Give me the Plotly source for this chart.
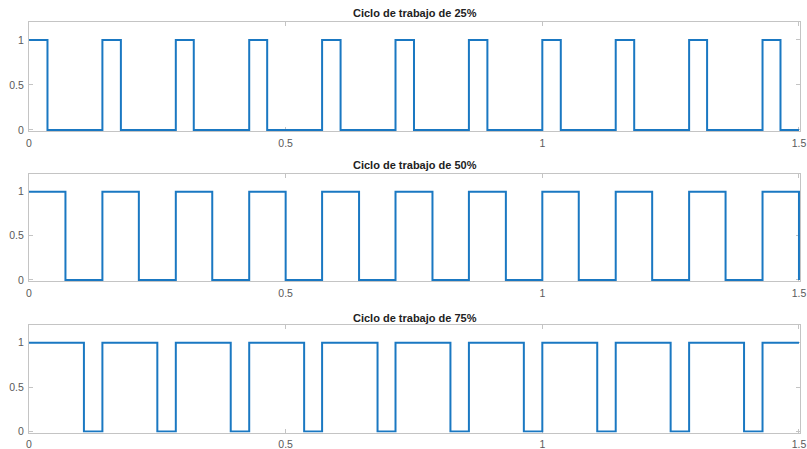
import plotly.graph_objects as go

# Edge times (seconds)
t_end = 1.5
rises = [0.0, 0.143, 0.286, 0.429, 0.571, 0.714, 0.857, 1.0, 1.143, 1.286, 1.429]
falls_25 = [0.036, 0.179, 0.321, 0.464, 0.607, 0.750, 0.893, 1.036, 1.179, 1.321, 1.464]
falls_50 = [0.071, 0.214, 0.357, 0.500, 0.643, 0.786, 0.929, 1.071, 1.214, 1.357, 1.500]
falls_75 = [0.107, 0.250, 0.393, 0.536, 0.679, 0.821, 0.964, 1.107, 1.250, 1.393]

titles = ["Ciclo de trabajo de 25%", "Ciclo de trabajo de 50%", "Ciclo de trabajo de 75%"]
x_ticks = [0, 0.5, 1, 1.5]
x_tick_labels = ["0", "0.5", "1", "1.5"]
y_ticks = [0, 0.5, 1]
y_tick_labels = ["0", "0.5", "1"]


def edges_to_steps(rise, fall, end):
    xs, ys = [], []
    for i, r in enumerate(rise):
        xs.append(r); ys.append(1)
        if i < len(fall):
            xs.append(fall[i]); ys.append(0)
    if xs[-1] < end:
        xs.append(end); ys.append(ys[-1])
    return xs, ys


series = [falls_25, falls_50, falls_75]

W, H = 807, 449
# pixel boxes (top, bottom) of each axes
boxes = [(22, 131), (174, 281), (325, 432.5)]
title_y = [13, 165, 318]

fig = go.Figure()
font_family = "Liberation Sans, Arial, Helvetica, sans-serif"
for i, falls in enumerate(series):
    xs, ys = edges_to_steps(rises, falls, t_end)
    xa = "x" if i == 0 else f"x{i+1}"
    ya = "y" if i == 0 else f"y{i+1}"
    fig.add_trace(go.Scatter(x=xs, y=ys, mode="lines", line=dict(color="#1a78c2", width=2, shape="hv"),
                             xaxis=xa, yaxis=ya, showlegend=False, cliponaxis=False))
    top, bot = boxes[i]
    dom = [1 - bot / H, 1 - top / H]
    axis_common = dict(showline=True, linecolor="#c4c4c4", linewidth=1, mirror="ticks", ticks="inside",
                       ticklen=4, tickcolor="#c4c4c4", showgrid=False, zeroline=False,
                       tickfont=dict(family=font_family, size=10.5, color="#5a5a5a"), layer="below traces")
    xkey = "xaxis" if i == 0 else f"xaxis{i+1}"
    ykey = "yaxis" if i == 0 else f"yaxis{i+1}"
    fig.update_layout({
        xkey: dict(domain=[0, 1], range=[0, 1.502], tickvals=x_ticks, ticktext=x_tick_labels,
                   anchor=ya, automargin=False, ticklabelstandoff=2, **axis_common),
        ykey: dict(domain=dom, range=[-0.012, 1.2], tickvals=y_ticks, ticktext=y_tick_labels,
                   anchor=xa, automargin=False, ticklabelstandoff=2, **axis_common),
    })
    fig.add_annotation(text="<b>" + titles[i] + "</b>", xref="paper", yref="paper", x=0.5,
                       y=1 - title_y[i] / H, xanchor="center", yanchor="middle", showarrow=False,
                       font=dict(family=font_family, size=11, color="#222222"))

fig.update_layout(width=W, height=H, margin=dict(l=29, r=7, t=0, b=0),
                  paper_bgcolor="white", plot_bgcolor="white")
fig.write_html("out.html", config={"displayModeBar": False},
               post_script="document.body.style.margin='0';")
